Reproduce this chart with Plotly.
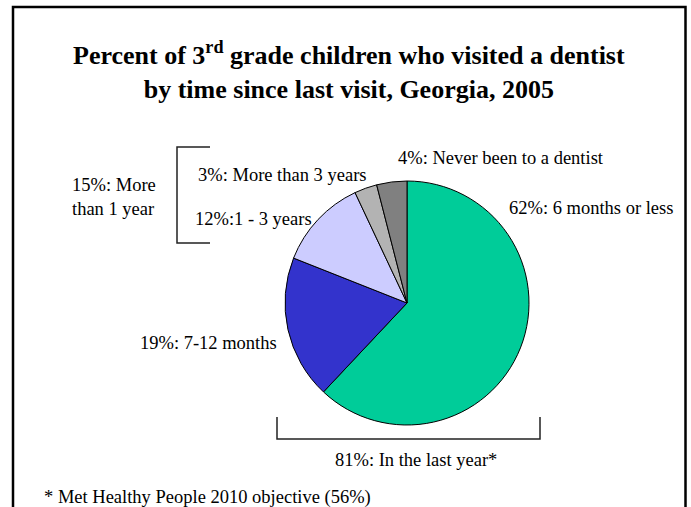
import plotly.graph_objects as go

W, H = 691, 507

categories = ["6 months or less", "7-12 months", "1 - 3 years", "More than 3 years", "Never been to a dentist"]
values = [62, 19, 12, 3, 4]
colors = ["#00CC99", "#3333CC", "#CCCCFF", "#B3B3B3", "#808080"]

label_texts = [
    "62%: 6 months or less",
    "19%: 7-12 months",
    "12%:1 - 3 years",
    "3%: More than 3 years",
    "4%: Never been to a dentist",
]
group_more_1yr = "15%: More<br>than 1 year"
group_last_year = "81%: In the last year*"
footnote = "* Met Healthy People 2010 objective (56%)"
title_text = "<b>Percent of 3<sup>rd</sup> grade children who visited a dentist</b><br><b>by time since last visit, Georgia, 2005</b>"


def px(x):
    return x / W


def py(y):
    return 1 - y / H


SERIF = "Liberation Serif, Times New Roman, serif"

fig = go.Figure()
fig.add_trace(go.Pie(
    labels=categories,
    values=values,
    sort=False,
    direction="clockwise",
    rotation=0,
    textinfo="none",
    hoverinfo="label+percent",
    marker=dict(colors=colors, line=dict(color="black", width=1)),
    domain=dict(x=[px(285), px(529)], y=[py(425), py(181)]),
    showlegend=False,
))

ann = []
# title
ann.append(dict(x=px(349), y=py(70.5), text=title_text, showarrow=False,
                xanchor="center", yanchor="middle", align="center",
                font=dict(family=SERIF, size=26, color="black")))
lbl_font = dict(family=SERIF, size=18.5, color="black")
# slice labels (left x, center y)
pos = [(507, 208), (138, 343), (193, 219), (196, 175), (396, 158)]
for t, (x, y) in zip(label_texts, pos):
    ann.append(dict(x=px(x), y=py(y), text=t, showarrow=False,
                    xanchor="left", yanchor="middle", font=lbl_font))
ann.append(dict(x=px(70), y=py(197), text=group_more_1yr, showarrow=False,
                xanchor="left", yanchor="middle", align="left", font=lbl_font))
ann.append(dict(x=px(416), y=py(460), text=group_last_year, showarrow=False,
                xanchor="center", yanchor="middle", font=lbl_font))
ann.append(dict(x=px(42), y=py(497), text=footnote, showarrow=False,
                xanchor="left", yanchor="middle", font=lbl_font))

line_style = dict(color="#222222", width=1.5)
shapes = [
    # outer frame
    dict(type="rect", xref="paper", yref="paper", x0=px(13), x1=px(685.5), y0=py(530), y1=py(7),
         line=dict(color="black", width=2.5), fillcolor="rgba(0,0,0,0)"),
    # left bracket
    dict(type="path", xref="paper", yref="paper",
         path=f"M {px(210)} {py(147)} L {px(177)} {py(147)} L {px(177)} {py(243)} L {px(210)} {py(243)}",
         line=line_style),
    # bottom bracket
    dict(type="path", xref="paper", yref="paper",
         path=f"M {px(277)} {py(417)} L {px(277)} {py(439)} L {px(540)} {py(439)} L {px(540)} {py(417)}",
         line=line_style),
]

fig.update_layout(
    width=W, height=H,
    margin=dict(l=0, r=0, t=0, b=0),
    paper_bgcolor="white", plot_bgcolor="white",
    annotations=ann, shapes=shapes,
)

fig.write_html("out.html", config={"displayModeBar": False},
               post_script="document.body.style.margin='0';document.body.style.overflow='hidden';")
